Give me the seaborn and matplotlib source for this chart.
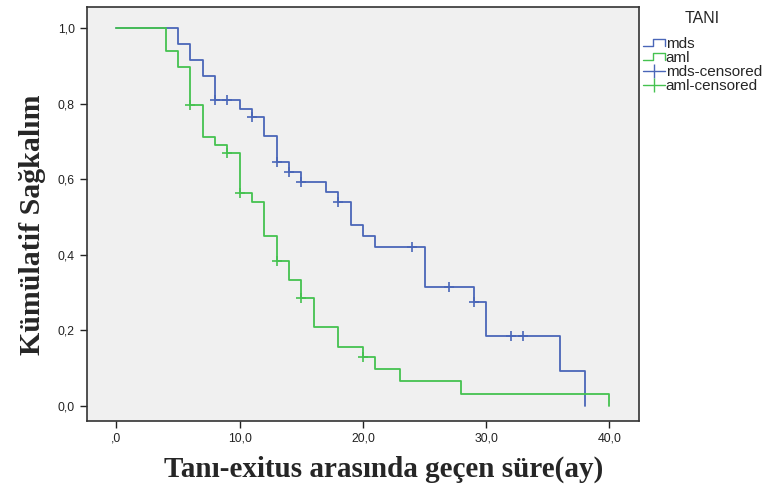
import numpy as np
import pandas as pd
import seaborn as sns
import matplotlib.pyplot as plt
from matplotlib.lines import Line2D
from matplotlib.legend_handler import HandlerBase

# Kaplan-Meier steps
mds_time = [0, 5, 6, 7, 8, 10, 11, 12, 13, 14, 15, 17, 18, 19, 20, 21, 25, 29, 30, 36, 38]
mds_surv = [1.0, 0.959, 0.916, 0.873, 0.81, 0.787, 0.765, 0.716, 0.645, 0.619, 0.594,
            0.568, 0.54, 0.48, 0.451, 0.42, 0.316, 0.276, 0.184, 0.092, 0.0]
mds_cens_time = [8, 9, 11, 13, 14, 15, 18, 24, 27, 29, 32, 33]
mds_cens_surv = [0.81, 0.81, 0.765, 0.645, 0.619, 0.594, 0.54, 0.42, 0.316, 0.276, 0.184, 0.184]

aml_time = [0, 4, 5, 6, 7, 8, 9, 10, 11, 12, 13, 14, 15, 16, 18, 20, 21, 23, 28, 40]
aml_surv = [1.0, 0.94, 0.899, 0.797, 0.713, 0.69, 0.67, 0.564, 0.541, 0.45, 0.383,
            0.334, 0.286, 0.208, 0.157, 0.13, 0.097, 0.065, 0.032, 0.0]
aml_cens_time = [6, 9, 10, 13, 15, 20]
aml_cens_surv = [0.797, 0.67, 0.564, 0.383, 0.286, 0.13]

x_ticks = [0, 10, 20, 30, 40]
x_ticklabels = [",0", "10,0", "20,0", "30,0", "40,0"]
y_ticks = [0.0, 0.2, 0.4, 0.6, 0.8, 1.0]
y_ticklabels = ["0,0", "0,2", "0,4", "0,6", "0,8", "1,0"]

blue = "#4a66b8"
green = "#45c250"

sns.set_style("ticks", {"axes.facecolor": "#f0f0f0"})
plt.rcParams["font.family"] = ["Liberation Sans", "DejaVu Sans"]

fig = plt.figure(figsize=(7.68, 4.91), dpi=100)
ax = fig.add_axes([0.113, 0.1426, 0.719, 0.8424])

sns.lineplot(x=mds_time, y=mds_surv, drawstyle="steps-post", color=blue, lw=1.3, ax=ax)
sns.lineplot(x=aml_time, y=aml_surv, drawstyle="steps-post", color=green, lw=1.3, ax=ax)
sns.scatterplot(x=mds_cens_time, y=mds_cens_surv, marker="+", s=60, color=blue,
                linewidth=1.2, ax=ax, zorder=4)
sns.scatterplot(x=aml_cens_time, y=aml_cens_surv, marker="+", s=60, color=green,
                linewidth=1.2, ax=ax, zorder=4)

ax.set_xlim(-2.4, 42.4)
ax.set_ylim(-0.04, 1.056)
ax.set_xticks(x_ticks)
ax.set_xticklabels(x_ticklabels)
ax.set_yticks(y_ticks)
ax.set_yticklabels(y_ticklabels)
ax.tick_params(labelsize=8.8, colors="#222222", length=5, width=1)
for sp in ax.spines.values():
    sp.set_visible(True)
    sp.set_color("#333333")
    sp.set_linewidth(1.2)

ax.set_xlabel("Tanı-exitus arasında geçen süre(ay)", fontsize=21, fontweight="bold",
              family="Liberation Serif")
ax.set_ylabel("Kümülatif Sağkalım", fontsize=21.5, fontweight="bold",
              family="Liberation Serif")
ax.xaxis.set_label_coords(0.538, -0.085)
ax.yaxis.set_label_coords(-0.074, 0.474)


class StepHandler(HandlerBase):
    def create_artists(self, legend, orig, xd, yd, w, h, fontsize, trans):
        xs = [xd, xd + w * 0.45, xd + w * 0.45, xd + w, xd + w]
        ys = [yd + h * 0.15, yd + h * 0.15, yd + h * 0.8, yd + h * 0.8, yd + h * 0.15]
        ln = Line2D(xs, ys, color=orig.get_color(), lw=1)
        ln.set_transform(trans)
        return [ln]


h_mds = Line2D([], [], color=blue)
h_aml = Line2D([], [], color=green)
h_mds_c = Line2D([], [], color=blue, lw=1, marker="|", markersize=10)
h_aml_c = Line2D([], [], color=green, lw=1, marker="|", markersize=10)
leg = fig.legend([h_mds, h_aml, h_mds_c, h_aml_c],
                 ["mds", "aml", "mds-censored", "aml-censored"],
                 title="TANI", loc="upper left", bbox_to_anchor=(0.837, 0.978),
                 frameon=False, fontsize=11, title_fontsize=11.5, borderpad=0,
                 borderaxespad=0, handlelength=1.45, handletextpad=0.05,
                 labelspacing=0.0,
                 handler_map={h_mds: StepHandler(), h_aml: StepHandler()})
leg._legend_box.sep = 8

fig.savefig("out.png", dpi=100)
